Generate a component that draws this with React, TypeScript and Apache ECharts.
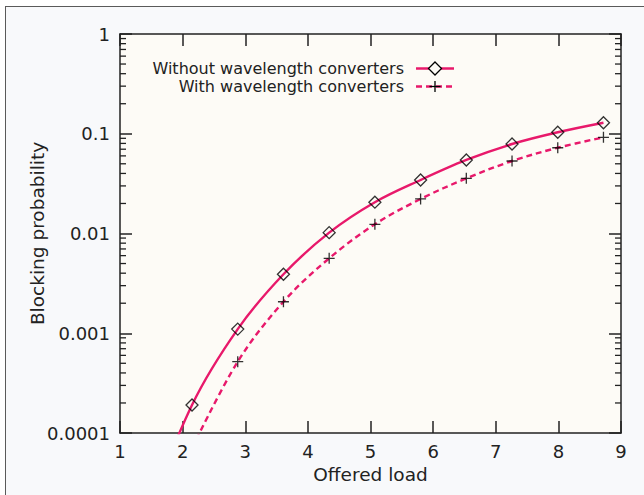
import React, { useEffect, useRef } from "react";
import * as echarts from "echarts";

// Offered load values at which the markers sit
const loadPoints = [2.15, 2.88, 3.61, 4.34, 5.07, 5.8, 6.53, 7.26, 7.99, 8.72];
// Blocking probability without wavelength converters (diamonds)
const withoutConv = [1.91e-4, 1.1e-3, 3.9e-3, 0.0102, 0.0206, 0.0344, 0.0546, 0.0789, 0.1035, 0.129];
// Blocking probability with wavelength converters (plus), starts at second load point
const withLoad = [2.88, 3.61, 4.34, 5.07, 5.8, 6.53, 7.26, 7.99, 8.72];
const withConv = [5.19e-4, 2.07e-3, 5.64e-3, 0.01237, 0.0222, 0.0357, 0.0533, 0.0724, 0.092];
// curve continuation below the visible range (clipped by the axis)
const withoutCurveStart = [[1.42, 1.4e-5]];
const withCurveStart = [[2.15, 7.0e-5]];

const xTickLabels = ["1", "2", "3", "4", "5", "6", "7", "8", "9"];
const yTickLabels = ["0.0001", "0.001", "0.01", "0.1", "1"];
const minorTickValues = [
  2e-4, 3e-4, 4e-4, 5e-4, 6e-4, 7e-4, 8e-4, 9e-4,
  2e-3, 3e-3, 4e-3, 5e-3, 6e-3, 7e-3, 8e-3, 9e-3,
  2e-2, 3e-2, 4e-2, 5e-2, 6e-2, 7e-2, 8e-2, 9e-2,
  2e-1, 3e-1, 4e-1, 5e-1, 6e-1, 7e-1, 8e-1, 9e-1,
];
const legendNames = ["Without wavelength converters", "With wavelength converters"];

const PINK = "#e8196b";
const INK = "#222222";
const FONT = '"DejaVu Sans"';

export default function App() {
  const ref = useRef<HTMLDivElement>(null);

  useEffect(() => {
    if (!ref.current) return;
    const chart = echarts.init(ref.current, undefined, { renderer: "svg" });

    const yFormatter = (v: number) => {
      const e = Math.round(Math.log10(v));
      return yTickLabels[e + 4] ?? "";
    };

    const solidData = [
      ...withoutCurveStart,
      ...loadPoints.map((x, i) => [x, withoutConv[i]]),
    ];
    const dashedData = [
      ...withCurveStart,
      ...withLoad.map((x, i) => [x, withConv[i]]),
    ];

    const lx = 435;
    const ly1 = 68.5;
    const ly2 = 86.5;

    chart.setOption({
      animation: false,
      grid: {
        left: 120,
        top: 34,
        right: 23,
        bottom: 62,
        show: true,
        backgroundColor: "#fdfbf6",
        borderWidth: 0,
      },
      xAxis: [
        {
          type: "value",
          min: 1,
          max: 9,
          interval: 1,
          position: "bottom",
          name: "Offered load",
          nameLocation: "middle",
          nameGap: 32,
          nameMoveOverlap: false,
          nameTextStyle: { fontFamily: FONT, fontSize: 18.5, color: INK },
          axisLine: { show: true, lineStyle: { color: INK, width: 1.5 } },
          axisTick: { show: true, inside: true, length: 12, lineStyle: { color: INK, width: 1.5 } },
          axisLabel: {
            show: true,
            margin: 9,
            fontFamily: FONT,
            fontSize: 18,
            color: INK,
            formatter: (v: number) => xTickLabels[Math.round(v) - 1] ?? "",
          },
          splitLine: { show: false },
        },
        {
          type: "value",
          min: 1,
          max: 9,
          interval: 1,
          position: "top",
          axisLine: { show: true, lineStyle: { color: INK, width: 1.5 } },
          axisTick: { show: true, inside: true, length: 12, lineStyle: { color: INK, width: 1.5 } },
          axisLabel: { show: false },
          splitLine: { show: false },
        },
      ],
      yAxis: [
        {
          type: "log",
          logBase: 10,
          min: 0.0001,
          max: 1,
          position: "left",
          name: "Blocking probability",
          nameLocation: "middle",
          nameGap: 73,
          nameMoveOverlap: false,
          nameTextStyle: { fontFamily: FONT, fontSize: 18.5, color: INK },
          axisLine: { show: true, lineStyle: { color: INK, width: 1.5 } },
          axisTick: { show: true, inside: true, length: 12, lineStyle: { color: INK, width: 1.5 } },
          axisLabel: {
            show: true,
            margin: 10,
            fontFamily: FONT,
            fontSize: 18,
            color: INK,
            formatter: yFormatter,
          },
          splitLine: { show: false },
          minorTick: { show: false },
        },
        {
          type: "log",
          logBase: 10,
          min: 0.0001,
          max: 1,
          position: "right",
          axisLine: { show: true, lineStyle: { color: INK, width: 1.5 } },
          axisTick: { show: true, inside: true, length: 12, lineStyle: { color: INK, width: 1.5 } },
          axisLabel: { show: false },
          splitLine: { show: false },
        },
      ],
      series: [
        {
          type: "custom",
          name: "minorTicks",
          xAxisIndex: 0,
          yAxisIndex: 0,
          silent: true,
          clip: false,
          data: minorTickValues.map((v) => [1, v]),
          renderItem: (params: any, api: any) => {
            const pt = api.coord([api.value(0), api.value(1)]);
            const cs = params.coordSys;
            const style = { stroke: INK, lineWidth: 1.3 };
            return {
              type: "group",
              children: [
                { type: "line", shape: { x1: cs.x, y1: pt[1], x2: cs.x + 6, y2: pt[1] }, style },
                {
                  type: "line",
                  shape: { x1: cs.x + cs.width, y1: pt[1], x2: cs.x + cs.width - 6, y2: pt[1] },
                  style,
                },
              ],
            };
          },
        },
        {
          type: "line",
          name: legendNames[0],
          data: solidData,
          smooth: 0.35,
          symbol: "none",
          clip: true,
          lineStyle: { color: PINK, width: 2.4 },
          z: 3,
        },
        {
          type: "line",
          name: legendNames[1],
          data: dashedData,
          smooth: 0.35,
          symbol: "none",
          clip: true,
          lineStyle: { color: PINK, width: 2.4, type: [6, 4] },
          z: 3,
        },
        {
          type: "scatter",
          name: legendNames[0] + " markers",
          data: loadPoints.map((x, i) => [x, withoutConv[i]]),
          symbol: "diamond",
          symbolSize: [12, 12],
          itemStyle: { color: "rgba(0,0,0,0)", borderColor: "#000", borderWidth: 1.3 },
          z: 5,
        },
        {
          type: "scatter",
          name: legendNames[1] + " markers",
          data: withLoad.map((x, i) => [x, withConv[i]]),
          symbol: "path://M0,5L10,5M5,0L5,10",
          symbolSize: 11,
          itemStyle: { color: "rgba(0,0,0,0)", borderColor: "#000", borderWidth: 1.3 },
          z: 5,
        },
      ],
      graphic: [
        {
          type: "text",
          x: 404,
          y: ly1,
          style: {
            text: legendNames[0],
            textAlign: "right",
            textVerticalAlign: "middle",
            font: `16px ${FONT}`,
            fill: INK,
          },
          z: 10,
        },
        {
          type: "text",
          x: 404,
          y: ly2,
          style: {
            text: legendNames[1],
            textAlign: "right",
            textVerticalAlign: "middle",
            font: `16px ${FONT}`,
            fill: INK,
          },
          z: 10,
        },
        {
          type: "line",
          shape: { x1: 416, y1: ly1, x2: 454, y2: ly1 },
          style: { stroke: PINK, lineWidth: 2.4 },
          z: 10,
        },
        {
          type: "polygon",
          shape: { points: [[lx, ly1 - 6.5], [lx + 6.5, ly1], [lx, ly1 + 6.5], [lx - 6.5, ly1]] },
          style: { fill: "#fdfbf6", stroke: "#000", lineWidth: 1.3 },
          z: 11,
        },
        {
          type: "line",
          shape: { x1: 416, y1: ly2, x2: 454, y2: ly2 },
          style: { stroke: PINK, lineWidth: 2.4, lineDash: [6, 4] },
          z: 10,
        },
        {
          type: "line",
          shape: { x1: lx - 5.5, y1: ly2, x2: lx + 5.5, y2: ly2 },
          style: { stroke: "#000", lineWidth: 1.3 },
          z: 11,
        },
        {
          type: "line",
          shape: { x1: lx, y1: ly2 - 5.5, x2: lx, y2: ly2 + 5.5 },
          style: { stroke: "#000", lineWidth: 1.3 },
          z: 11,
        },
      ],
    });

    return () => chart.dispose();
  }, []);

  return (
    <div style={{ position: "fixed", left: 0, top: 0, width: 644, height: 495, background: "#ffffff", overflow: "hidden" }}>
      <div
        style={{
          position: "absolute",
          left: 5,
          top: 6,
          width: 700,
          height: 600,
          background: "#f8f9fb",
          border: "1.5px solid #5a5a5a",
        }}
      />
      <div ref={ref} style={{ position: "absolute", left: 0, top: 0, width: 644, height: 495 }} />
    </div>
  );
}
